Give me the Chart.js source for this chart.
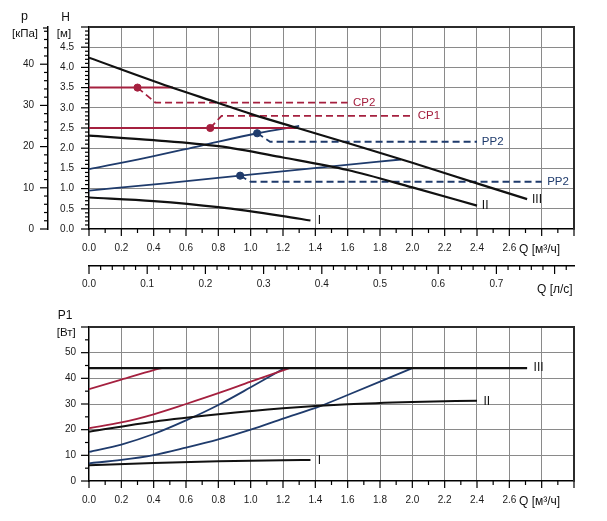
<!DOCTYPE html>
<html><head><meta charset="utf-8">
<script src="https://cdn.jsdelivr.net/npm/chart.js@4.4.0/dist/chart.umd.min.js"></script>
<style>
html,body{margin:0;padding:0;background:#fff;}
#wrap{position:relative;width:607px;height:521px;overflow:hidden;}
#top{position:absolute;left:0;top:0;}
#bot{position:absolute;left:0;top:300px;}
</style></head><body>
<div id="wrap"><canvas id="top" width="607" height="300"></canvas><canvas id="bot" width="607" height="221"></canvas></div>
<script>
// ---------- tick labels ----------
const qTickLabels = ['0.0','0.2','0.4','0.6','0.8','1.0','1.2','1.4','1.6','1.8','2.0','2.2','2.4','2.6'];
const lsTickLabels = ['0.0','0.1','0.2','0.3','0.4','0.5','0.6','0.7'];
const hTickLabels = ['0.0','0.5','1.0','1.5','2.0','2.5','3.0','3.5','4.0','4.5'];
const pTickLabels = ['0','10','20','30','40'];
const p1TickLabels = ['0','10','20','30','40','50'];

// ---------- top chart: head H [m] vs Q [m3/h] ----------
const curveIII_Q = [0, 0.5, 0.8, 1.0, 1.29, 1.6, 2.0, 2.4, 2.71];
const curveIII_H = [4.24, 3.52, 3.12, 2.85, 2.5, 2.13, 1.64, 1.13, 0.74];
const curveII_Q = [0, 0.4, 0.8, 1.2, 1.6, 2.0, 2.4];
const curveII_H = [2.31, 2.2, 2.05, 1.77, 1.46, 1.03, 0.58];
const curveI_Q = [0, 0.4, 0.8, 1.2, 1.37];
const curveI_H = [0.78, 0.69, 0.54, 0.32, 0.21];
const cp2_Q = [0, 0.52];
const cp2_H = [3.5, 3.5];
const cp1_Q = [0, 1.29];
const cp1_H = [2.5, 2.5];
const pp2a_Q = [0, 0.35, 0.69, 1.04, 1.3];
const pp2a_H = [1.48, 1.76, 2.06, 2.37, 2.55];
const pp2b_Q = [0, 0.47, 0.935, 1.47, 1.93];
const pp2b_H = [0.95, 1.13, 1.32, 1.54, 1.72];
const cp2Lead_Q = [0.3, 0.41, 1.6];
const cp2Lead_H = [3.5, 3.13, 3.13];
const cp1Lead_Q = [0.75, 0.82, 2.0];
const cp1Lead_H = [2.5, 2.8, 2.8];
const pp2aLead_Q = [1.04, 1.12, 2.4];
const pp2aLead_H = [2.37, 2.16, 2.16];
const pp2bLead_Q = [0.935, 1.0, 2.8];
const pp2bLead_H = [1.32, 1.17, 1.17];
const redDots_Q = [0.3, 0.75];
const redDots_H = [3.5, 2.5];
const blueDots_Q = [1.04, 0.935];
const blueDots_H = [2.37, 1.32];

// ---------- bottom chart: power P1 [W] vs Q [m3/h] ----------
const powIII_Q = [0, 2.71];
const powIII_P = [44, 44];
const powII_Q = [0, 0.4, 0.8, 1.2, 1.6, 2.0, 2.4];
const powII_P = [19.2, 23.1, 26, 28.3, 29.9, 30.8, 31.3];
const powI_Q = [0, 0.4, 0.8, 1.2, 1.37];
const powI_P = [6.1, 7.0, 7.7, 8.1, 8.2];
const powRedA_Q = [0, 0.2, 0.4, 0.45];
const powRedA_P = [35.8, 39.5, 43.2, 44];
const powRedB_Q = [0, 0.2, 0.4, 0.6, 0.8, 1.0, 1.24];
const powRedB_P = [20.6, 22.8, 26, 30, 34.2, 38.7, 44];
const powBlueA_Q = [0, 0.2, 0.4, 0.6, 0.8, 1.0, 1.21];
const powBlueA_P = [11.3, 14.2, 18.3, 23.6, 29.6, 36.5, 44];
const powBlueB_Q = [0, 0.2, 0.4, 0.6, 0.8, 1.0, 1.2, 1.43, 1.6, 1.8, 2.0];
const powBlueB_P = [6.9, 8.2, 10.1, 13, 16.2, 20, 24.3, 29.2, 33.5, 38.7, 44];

// ---------- helpers ----------
const FONT = "'Liberation Sans', Arial, sans-serif";
const RED = '#a5203f', BLUE = '#1f3b6c', BLACK = '#111';
const GRID = '#8a8a8a';
const zip = (xs, ys) => xs.map((x, i) => ({x, y: ys[i]}));
const isMult = (v, s) => Math.abs(v / s - Math.round(v / s)) < 1e-6;
const stepTicks = (min, max, step) => {
  const out = [];
  const n = Math.floor((max - min) / step + 1e-9);
  for (let i = 0; i <= n; i++) out.push({value: Math.round((min + i * step) * 1e9) / 1e9});
  return out;
};
const M3H_PER_LS = 3.6;
const KPA_PER_M = 9.80665;

function curve(data, color, width, extra) {
  return Object.assign({data, borderColor: color, borderWidth: width, pointRadius: 0,
    fill: false, cubicInterpolationMode: 'monotone'}, extra || {});
}
function dashed(data, color) {
  return {data, borderColor: color, borderWidth: 1.8, pointRadius: 0, fill: false,
    tension: 0, borderDash: [7, 4]};
}
function dots(data, color) {
  return {data, showLine: false, pointRadius: 3.6, pointBackgroundColor: color,
    pointBorderColor: color, borderColor: color};
}

const decor = {
  id: 'decor',
  afterDraw(chart, args, o) {
    const ctx = chart.ctx, ca = chart.chartArea;
    ctx.save();
    ctx.strokeStyle = '#2b2b2b'; ctx.lineWidth = 2;
    ctx.beginPath(); ctx.moveTo(ca.left, ca.top); ctx.lineTo(ca.right, ca.top); ctx.lineTo(ca.right, ca.bottom); ctx.stroke();
    ctx.strokeStyle = '#000'; ctx.lineWidth = 1.2;
    for (const t of o.tickMarks) {
      const sc = chart.scales[t.id];
      for (const tk of sc.ticks) {
        const v = tk.value;
        if (!isMult(v, t.step)) continue;
        const len = isMult(v, t.major) ? t.len[0] : t.len[1];
        const p = sc.getPixelForValue(v);
        ctx.beginPath();
        if (sc.isHorizontal()) { ctx.moveTo(p, sc.top); ctx.lineTo(p, sc.top + len); }
        else { ctx.moveTo(sc.right, p); ctx.lineTo(sc.right - len, p); }
        ctx.stroke();
      }
      if (t.cap) {
        ctx.beginPath(); ctx.moveTo(sc.right, sc.top + 1); ctx.lineTo(sc.right - t.cap, sc.top + 1); ctx.stroke();
      }
    }
    for (const tx of o.titles) {
      ctx.font = tx.size + 'px ' + FONT;
      ctx.fillStyle = '#111';
      ctx.textAlign = tx.align || 'center';
      ctx.textBaseline = 'alphabetic';
      ctx.fillText(tx.t, tx.x, tx.y);
    }
    const xs = chart.scales.x, ys = chart.scales.y;
    for (const lb of o.labels) {
      ctx.font = lb.size + 'px ' + FONT;
      ctx.fillStyle = lb.color;
      ctx.textAlign = 'left';
      ctx.textBaseline = 'middle';
      ctx.fillText(lb.t, xs.getPixelForValue(lb.q), ys.getPixelForValue(lb.v));
    }
    ctx.restore();
  }
};

const tickFont = {family: FONT, size: 10};
function qScale(height) {
  return {
    type: 'linear', position: 'bottom', min: 0, max: 3.0,
    afterBuildTicks: s => { s.ticks = stepTicks(0, 3.0, 0.1); },
    afterFit: s => { s.height = height; },
    ticks: {autoSkip: false, maxRotation: 0, padding: 13, color: '#1a1a1a', font: tickFont,
      callback: v => { const s = v.toFixed(1); return qTickLabels.includes(s) ? s : ''; }},
    grid: {drawTicks: false, lineWidth: 1,
      color: c => (c.tick && isMult(c.tick.value, 0.2) && c.tick.value > 0.01 && c.tick.value < 2.99) ? GRID : 'rgba(0,0,0,0)'},
    border: {display: true, color: '#000', width: 1.5}
  };
}

const common = {
  responsive: false, animation: false, events: [],
  plugins: {legend: {display: false}, tooltip: {enabled: false}}
};

// ---------- top chart ----------
new Chart(document.getElementById('top'), {
  type: 'line',
  data: {datasets: [
    dots(zip(redDots_Q, redDots_H), RED),
    dots(zip(blueDots_Q, blueDots_H), BLUE),
    curve(zip(curveIII_Q, curveIII_H), BLACK, 2.2),
    curve(zip(curveII_Q, curveII_H), BLACK, 2.2),
    curve(zip(curveI_Q, curveI_H), BLACK, 2.2),
    curve(zip(cp2_Q, cp2_H), RED, 2, {tension: 0}),
    curve(zip(cp1_Q, cp1_H), RED, 2, {tension: 0}),
    curve(zip(pp2a_Q, pp2a_H), BLUE, 1.8),
    curve(zip(pp2b_Q, pp2b_H), BLUE, 1.8),
    dashed(zip(cp2Lead_Q, cp2Lead_H), RED),
    dashed(zip(cp1Lead_Q, cp1Lead_H), RED),
    dashed(zip(pp2aLead_Q, pp2aLead_H), BLUE),
    dashed(zip(pp2bLead_Q, pp2bLead_H), BLUE)
  ]},
  options: Object.assign({}, common, {
    layout: {padding: {top: 27, right: 33, left: 0, bottom: 0}},
    scales: {
      x: qScale(37),
      x2: {
        type: 'linear', position: 'bottom', min: 0, max: 3.0 / M3H_PER_LS,
        afterBuildTicks: s => { s.ticks = stepTicks(0, 0.82, 0.02); },
        afterFit: s => { s.height = 34; },
        ticks: {autoSkip: false, maxRotation: 0, padding: 12, color: '#1a1a1a', font: tickFont,
          callback: v => { const s = v.toFixed(1); return (isMult(v, 0.1) && lsTickLabels.includes(s)) ? s : ''; }},
        grid: {drawOnChartArea: false, drawTicks: false},
        border: {display: true, color: '#000', width: 1.5}
      },
      y: {
        type: 'linear', position: 'left', min: 0, max: 5,
        afterBuildTicks: s => { s.ticks = stepTicks(0, 5, 0.1); },
        afterFit: s => { s.width = 41; },
        ticks: {autoSkip: false, padding: 15, color: '#1a1a1a', font: tickFont,
          callback: v => { const s = v.toFixed(1); return (isMult(v, 0.5) && hTickLabels.includes(s)) ? s : ''; }},
        grid: {drawTicks: false, lineWidth: 1,
          color: c => (c.tick && isMult(c.tick.value, 0.5) && c.tick.value > 0.01 && c.tick.value < 4.99) ? GRID : 'rgba(0,0,0,0)'},
        border: {display: true, color: '#000', width: 1.5}
      },
      y2: {
        type: 'linear', position: 'left', min: 0, max: 5 * KPA_PER_M,
        afterBuildTicks: s => { s.ticks = stepTicks(0, 48, 2); },
        afterFit: s => { s.width = 48; },
        ticks: {autoSkip: false, padding: 14, color: '#1a1a1a', font: tickFont,
          callback: v => { const s = String(Math.round(v)); return (isMult(v, 10) && pTickLabels.includes(s)) ? s : ''; }},
        grid: {drawOnChartArea: false, drawTicks: false},
        border: {display: true, color: '#000', width: 1.5}
      }
    },
    plugins: Object.assign({}, common.plugins, {decor: {
      tickMarks: [
        {id: 'x', step: 0.1, major: 0.2, len: [7, 4]},
        {id: 'x2', step: 0.02, major: 0.1, len: [8, 4]},
        {id: 'y', step: 0.1, major: 0.5, len: [8, 4]},
        {id: 'y2', step: 2, major: 10, len: [8, 4], cap: 5}
      ],
      titles: [
        {t: 'p', x: 24.5, y: 20, size: 12.5},
        {t: '[кПа]', x: 25, y: 36.5, size: 11.5},
        {t: 'H', x: 65.5, y: 20.7, size: 12},
        {t: '[м]', x: 64, y: 36.5, size: 11.5},
        {t: 'Q [м³/ч]', x: 519, y: 253, size: 12, align: 'left'},
        {t: 'Q [л/с]', x: 537, y: 293, size: 12, align: 'left'}
      ],
      labels: [
        {t: 'I', q: 1.415, v: 0.21, color: BLACK, size: 12},
        {t: 'II', q: 2.43, v: 0.57, color: BLACK, size: 12},
        {t: 'III', q: 2.74, v: 0.73, color: BLACK, size: 12},
        {t: 'CP2', q: 1.633, v: 3.13, color: RED, size: 11.5},
        {t: 'CP1', q: 2.033, v: 2.8, color: RED, size: 11.5},
        {t: 'PP2', q: 2.43, v: 2.16, color: BLUE, size: 11.5},
        {t: 'PP2', q: 2.834, v: 1.17, color: BLUE, size: 11.5}
      ]
    }})
  }),
  plugins: [decor]
});

// ---------- bottom chart ----------
new Chart(document.getElementById('bot'), {
  type: 'line',
  data: {datasets: [
    curve(zip(powIII_Q, powIII_P), BLACK, 2.2, {tension: 0}),
    curve(zip(powII_Q, powII_P), BLACK, 2.0),
    curve(zip(powI_Q, powI_P), BLACK, 2.0),
    curve(zip(powRedA_Q, powRedA_P), RED, 1.8),
    curve(zip(powRedB_Q, powRedB_P), RED, 1.8),
    curve(zip(powBlueA_Q, powBlueA_P), BLUE, 1.8),
    curve(zip(powBlueB_Q, powBlueB_P), BLUE, 1.8)
  ]},
  options: Object.assign({}, common, {
    layout: {padding: {top: 27, right: 33, left: 0, bottom: 0}},
    scales: {
      x: qScale(40),
      y: {
        type: 'linear', position: 'left', min: 0, max: 60,
        afterBuildTicks: s => { s.ticks = stepTicks(0, 60, 5); },
        afterFit: s => { s.width = 89; },
        ticks: {autoSkip: false, padding: 13, color: '#1a1a1a', font: tickFont,
          callback: v => { const s = String(Math.round(v)); return (isMult(v, 10) && p1TickLabels.includes(s)) ? s : ''; }},
        grid: {drawTicks: false, lineWidth: 1,
          color: c => (c.tick && isMult(c.tick.value, 10) && c.tick.value > 0.1 && c.tick.value < 59.9) ? GRID : 'rgba(0,0,0,0)'},
        border: {display: true, color: '#000', width: 1.5}
      }
    },
    plugins: Object.assign({}, common.plugins, {decor: {
      tickMarks: [
        {id: 'x', step: 0.1, major: 0.2, len: [7, 4]},
        {id: 'y', step: 5, major: 10, len: [8, 4]}
      ],
      titles: [
        {t: 'P1', x: 65, y: 18.7, size: 12},
        {t: '[Вт]', x: 66.3, y: 35.5, size: 11.5},
        {t: 'Q [м³/ч]', x: 519, y: 205, size: 12, align: 'left'}
      ],
      labels: [
        {t: 'I', q: 1.415, v: 8.0, color: BLACK, size: 12},
        {t: 'II', q: 2.44, v: 30.9, color: BLACK, size: 12},
        {t: 'III', q: 2.75, v: 44, color: BLACK, size: 12}
      ]
    }})
  }),
  plugins: [decor]
});
</script>
</body></html>
